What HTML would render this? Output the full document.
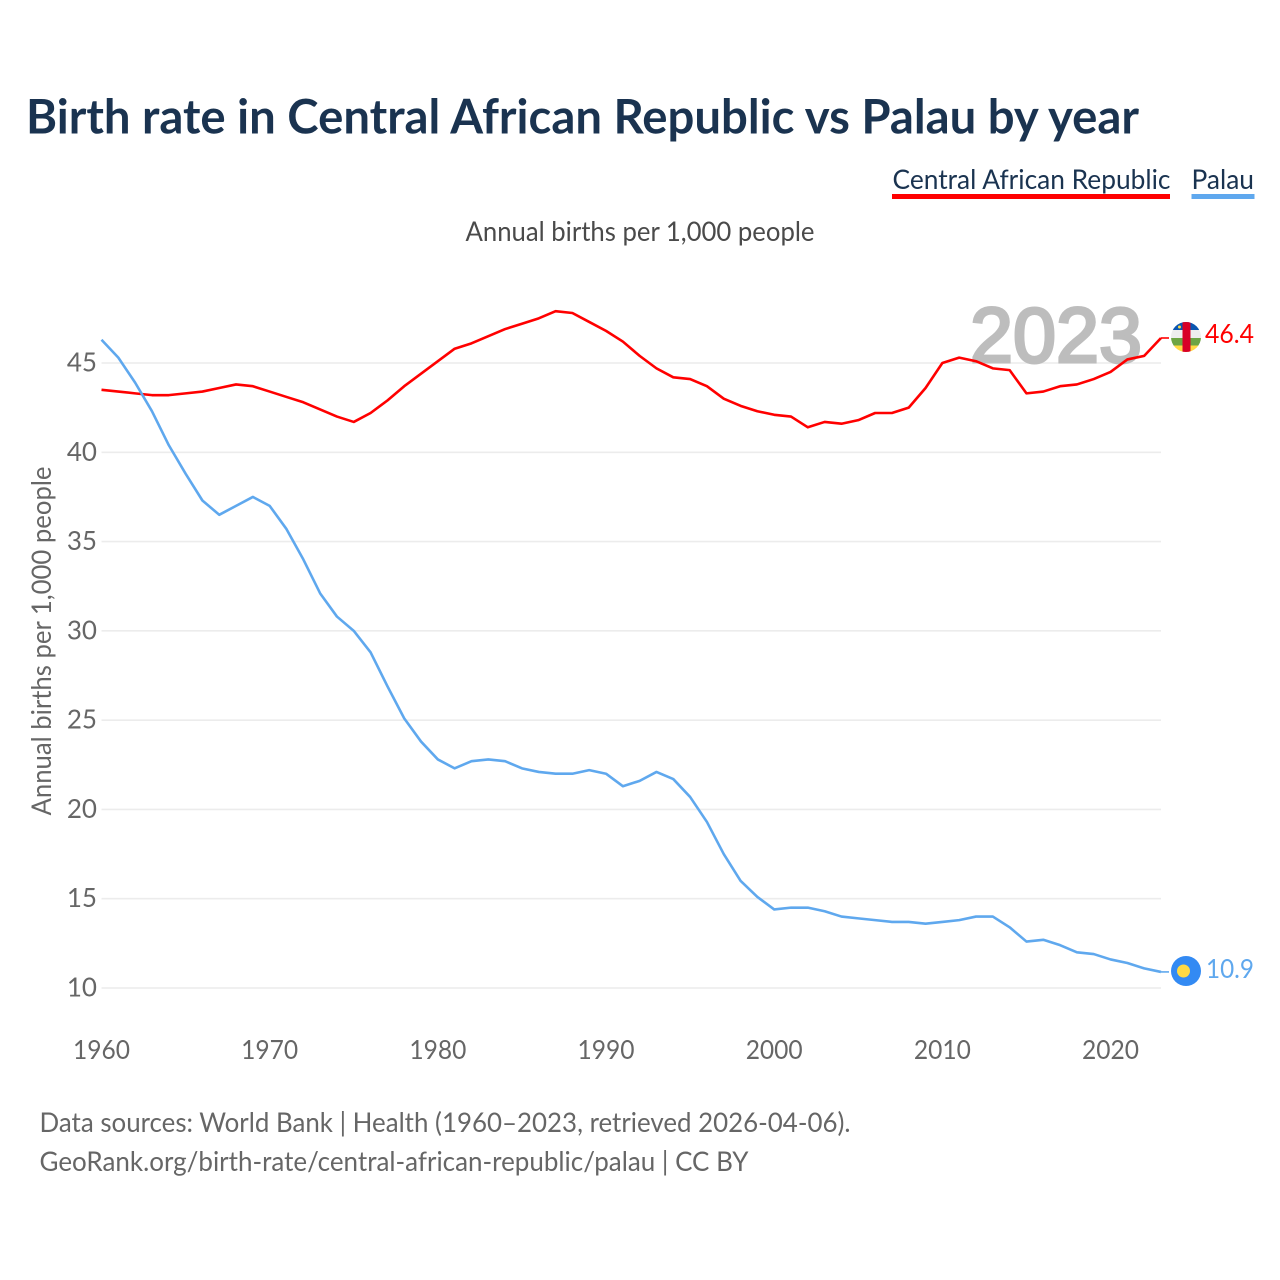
<!DOCTYPE html>
<html lang="en">
<head>
<meta charset="utf-8">
<title>Birth rate in Central African Republic vs Palau by year</title>
<style>
html,body{margin:0;padding:0;background:#fff;width:1280px;height:1280px;overflow:hidden}
svg{display:block}
text{font-family:"Lato","Carlito","Liberation Sans",sans-serif}
</style>
</head>
<body>
<svg id="chart" xmlns="http://www.w3.org/2000/svg" width="1280" height="1280" viewBox="0 0 1280 1280">
  <defs>
    <clipPath id="flag-clip-car"><circle cx="1186" cy="337" r="15"/></clipPath>
  </defs>
  <rect width="1280" height="1280" fill="#fff"/>
  <text x="26" y="133.500" font-size="48" font-weight="700" fill="#1a3350" textLength="1113" lengthAdjust="spacingAndGlyphs">Birth rate in Central African Republic vs Palau by year</text>

  <g>
    <text x="892.500" y="189" font-size="27" fill="#1a3350" textLength="278" lengthAdjust="spacingAndGlyphs">Central African Republic</text>
    <rect x="892" y="194" width="278" height="5" fill="#ff0000"/>
  </g>
  <g>
    <text x="1191.500" y="189" font-size="27" fill="#1a3350" textLength="62.500" lengthAdjust="spacingAndGlyphs">Palau</text>
    <rect x="1191.500" y="194" width="63" height="5" fill="#5fa8ee"/>
  </g>

  <text x="465.500" y="241" font-size="27" fill="#4a4a4a" textLength="349" lengthAdjust="spacingAndGlyphs">Annual births per 1,000 people</text>
  <text transform="translate(51 815.500) rotate(-90)" font-size="27" fill="#666" textLength="349" lengthAdjust="spacingAndGlyphs">Annual births per 1,000 people</text>

  <g id="grid"></g>
  <text x="970" y="362" font-size="78" fill="#bdbdbd" stroke="#bdbdbd" stroke-width="3" style="font-family:'Liberation Sans',sans-serif" textLength="172" lengthAdjust="spacingAndGlyphs">2023</text>
  <g id="yticks"></g>
  <g id="xticks"></g>
  <g id="series"></g>

  <g clip-path="url(#flag-clip-car)">
    <rect x="1171" y="322" width="30" height="8" fill="#0a56b0"/>
    <rect x="1171" y="330" width="30" height="8" fill="#eeeeee"/>
    <rect x="1171" y="338" width="30" height="7.500" fill="#6da544"/>
    <rect x="1171" y="345.500" width="30" height="7" fill="#ffda44"/>
    <rect x="1182.500" y="322" width="8" height="30" fill="#d80027"/>
    <circle cx="1179.500" cy="327" r="1.500" fill="#ffda44"/>
  </g>
  <g>
    <circle cx="1186" cy="971" r="15" fill="#338af3"/>
    <circle cx="1183.500" cy="971" r="6.500" fill="#ffda44"/>
  </g>
  <text id="label-car" x="1205" y="343" font-size="26" fill="#ff0000" textLength="49" lengthAdjust="spacingAndGlyphs"></text>
  <text id="label-palau" x="1206" y="978" font-size="26" fill="#5fa8ee" textLength="48" lengthAdjust="spacingAndGlyphs"></text>

  <text x="39.500" y="1132" font-size="27" fill="#666" textLength="811" lengthAdjust="spacingAndGlyphs">Data sources: World Bank | Health (1960–2023, retrieved 2026-04-06).</text>
  <text x="39.500" y="1171" font-size="27" fill="#666" textLength="709" lengthAdjust="spacingAndGlyphs">GeoRank.org/birth-rate/central-african-republic/palau | CC BY</text>
</svg>
<script>
const startYear = 1960;
const yTickValues = [10, 15, 20, 25, 30, 35, 40, 45];
const xTickValues = [1960, 1970, 1980, 1990, 2000, 2010, 2020];
const carValues = [43.5,43.4,43.3,43.2,43.2,43.3,43.4,43.6,43.8,43.7,43.4,43.1,42.8,42.4,42.0,41.7,42.2,42.9,43.7,44.4,45.1,45.8,46.1,46.5,46.9,47.2,47.5,47.9,47.8,47.3,46.8,46.2,45.4,44.7,44.2,44.1,43.7,43.0,42.6,42.3,42.1,42.0,41.4,41.7,41.6,41.8,42.2,42.2,42.5,43.6,45.0,45.3,45.1,44.7,44.6,43.3,43.4,43.7,43.8,44.1,44.5,45.2,45.4,46.4];
const palauValues = [46.3,45.3,43.9,42.3,40.4,38.8,37.3,36.5,37.0,37.5,37.0,35.7,34.0,32.1,30.8,30.0,28.8,26.9,25.1,23.8,22.8,22.3,22.7,22.8,22.7,22.3,22.1,22.0,22.0,22.2,22.0,21.3,21.6,22.1,21.7,20.7,19.3,17.5,16.0,15.1,14.4,14.5,14.5,14.3,14.0,13.9,13.8,13.7,13.7,13.6,13.7,13.8,14.0,14.0,13.4,12.6,12.7,12.4,12.0,11.9,11.6,11.4,11.1,10.9];

const NS = 'http://www.w3.org/2000/svg';
function xScale(year) { return 101.5 + (year - 1960) * (1161 - 101.5) / 63; }
function yScale(v) { return 988 - (v - 10) * (988 - 363) / 35; }
function make(tag, attrs, parent) {
  const el = document.createElementNS(NS, tag);
  for (const k in attrs) el.setAttribute(k, attrs[k]);
  parent.appendChild(el);
  return el;
}

const grid = document.getElementById('grid');
const yticks = document.getElementById('yticks');
const xticks = document.getElementById('xticks');
const series = document.getElementById('series');

yTickValues.forEach(function (v) {
  const line = make('line', {x1: 101.5, x2: 1161, y1: yScale(v), y2: yScale(v), stroke: '#ececec', 'stroke-width': 1.6}, grid);
  
  
  const label = make('text', {x: 97, y: yScale(v) + 8.5, 'text-anchor': 'end', 'font-size': 26, fill: '#666'}, yticks);
  
  
  label.textContent = v;
});

xTickValues.forEach(function (year) {
  const label = make('text', {x: xScale(year), y: 1059, 'text-anchor': 'middle', 'font-size': 26, fill: '#666', textLength: 57, lengthAdjust: 'spacingAndGlyphs'}, xticks);
  
  
  label.textContent = year;
});

function drawLine(values, color, name) {
  const pts = values.map(function (v, i) { return xScale(startYear + i).toFixed(2) + ',' + yScale(v).toFixed(2); });
  const line = make('polyline', {points: pts.join(' '), fill: 'none', stroke: color, 'stroke-width': 2.6, 'stroke-linejoin': 'round'}, series);
  
  
  const lastY = yScale(values[values.length - 1]);
  const connector = make('line', {x1: xScale(startYear + values.length - 1), x2: 1169, y1: lastY, y2: lastY, stroke: color, 'stroke-width': 1.6}, series);
  
  
}
drawLine(carValues, '#ff0000', 'line-central-african-republic');
drawLine(palauValues, '#5fa8ee', 'line-palau');

document.getElementById('label-car').textContent = carValues[carValues.length - 1].toFixed(1);
document.getElementById('label-palau').textContent = palauValues[palauValues.length - 1].toFixed(1);
</script>
</body>
</html>
